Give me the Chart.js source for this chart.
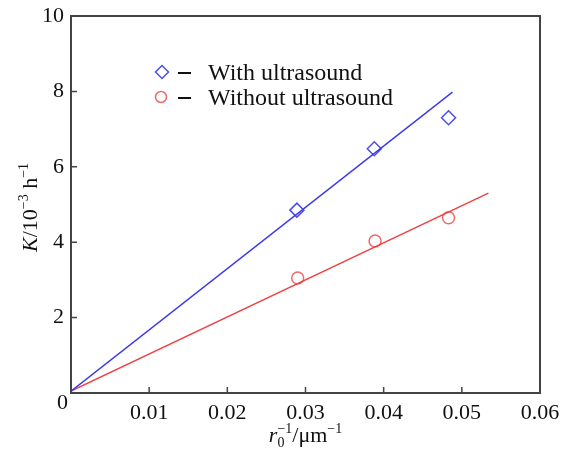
<!DOCTYPE html>
<html><head><meta charset="utf-8">
<script src="https://cdn.jsdelivr.net/npm/chart.js@4/dist/chart.umd.min.js"></script>
<style>html,body{margin:0;padding:0;background:#fff;}#w{width:562px;height:455px;}</style>
</head><body><div id="w"><canvas id="c" width="562" height="455"></canvas></div>
<script>
// Data
const withX = [0.0289, 0.0388, 0.0483];
const withY = [4.85, 6.48, 7.30];
const withoutX = [0.0290, 0.0389, 0.0483];
const withoutY = [3.05, 4.03, 4.65];
const withFitX = [0, 0.0488];
const withFitY = [0.05, 7.98];
const withoutFitX = [0, 0.0534];
const withoutFitY = [0.05, 5.30];
const xTicks = [0, 0.01, 0.02, 0.03, 0.04, 0.05, 0.06];
const yTicks = [0, 2, 4, 6, 8, 10];
const legendLabels = ['With ultrasound', 'Without ultrasound'];

const BLUE = '#3a3ae8', BLUE_M = '#4d4df0', RED = '#ee4040', RED_M = '#ee6a6a';
const FONT = '"Liberation Serif", "Times New Roman", serif';
const pts = (xs, ys) => xs.map((x, i) => ({x, y: ys[i]}));

function drawSegs(ctx, segs, x, y) {
  let cx = x, maxW = 0;
  for (const s of segs) {
    ctx.font = (s.it ? 'italic ' : '') + s.size + 'px ' + FONT;
    ctx.fillText(s.t, cx, y + (s.dy || 0));
    const w = ctx.measureText(s.t).width;
    if (s.stack) { maxW = Math.max(maxW, w); }
    else { cx += Math.max(w, maxW); maxW = 0; }
  }
  return cx - x;
}
function segsWidth(ctx, segs) {
  let cx = 0, maxW = 0;
  for (const s of segs) {
    ctx.font = (s.it ? 'italic ' : '') + s.size + 'px ' + FONT;
    const w = ctx.measureText(s.t).width;
    if (s.stack) maxW = Math.max(maxW, w); else { cx += Math.max(w, maxW); maxW = 0; }
  }
  return cx;
}

const deco = {
  id: 'deco',
  afterDraw(chart) {
    const ctx = chart.ctx, a = chart.chartArea;
    const xs = chart.scales.x, ys = chart.scales.y;
    ctx.save();
    ctx.strokeStyle = '#444'; ctx.lineWidth = 2;
    ctx.strokeRect(a.left, a.top, a.right - a.left, a.bottom - a.top);
    ctx.lineWidth = 1.5;
    ctx.beginPath();
    xTicks.slice(1, -1).forEach(v => { const p = xs.getPixelForValue(v); ctx.moveTo(p, a.bottom); ctx.lineTo(p, a.bottom - 6); });
    yTicks.slice(1, -1).forEach(v => { const p = ys.getPixelForValue(v); ctx.moveTo(a.left, p); ctx.lineTo(a.left + 6, p); });
    ctx.stroke();
    ctx.fillStyle = '#111';
    ctx.font = '22px ' + FONT; ctx.textAlign = 'right'; ctx.textBaseline = 'middle';
    ctx.fillText('0', a.left - 3, a.bottom + 10);
    ctx.textAlign = 'left'; ctx.textBaseline = 'alphabetic';
    const xt = [
      {t: 'r', size: 22, it: true},
      {t: '0', size: 14, dy: 5, stack: true},
      {t: '−1', size: 14, dy: -9},
      {t: '/μm', size: 22},
      {t: '−1', size: 14, dy: -9}
    ];
    const xw = segsWidth(ctx, xt);
    drawSegs(ctx, xt, (a.left + a.right) / 2 - xw / 2, 442);
    const yt = [
      {t: 'K', size: 22, it: true},
      {t: '/10', size: 22},
      {t: '−3', size: 14, dy: -9},
      {t: ' h', size: 22},
      {t: '−1', size: 14, dy: -9}
    ];
    const yw = segsWidth(ctx, yt);
    ctx.save();
    ctx.translate(37, (a.top + a.bottom) / 2 + 3);
    ctx.rotate(-Math.PI / 2);
    drawSegs(ctx, yt, -yw / 2, 0);
    ctx.restore();
    const items = [
      {y: 72, col: BLUE_M, shape: 'd'},
      {y: 97, col: RED_M, shape: 'c'}
    ];
    items.forEach((it, i) => {
      ctx.strokeStyle = it.col; ctx.lineWidth = 1.5;
      ctx.beginPath();
      if (it.shape === 'd') { ctx.moveTo(162, it.y - 6.5); ctx.lineTo(168.5, it.y); ctx.lineTo(162, it.y + 6.5); ctx.lineTo(155.5, it.y); ctx.closePath(); }
      else { ctx.arc(161, it.y, 5.5, 0, Math.PI * 2); }
      ctx.stroke();
      ctx.strokeStyle = '#111'; ctx.lineWidth = 2;
      ctx.beginPath(); ctx.moveTo(178, it.y + 1); ctx.lineTo(191, it.y + 1); ctx.stroke();
      ctx.fillStyle = '#111'; ctx.font = '24px ' + FONT;
      ctx.fillText(legendLabels[i], 208, it.y + 8);
    });
    ctx.restore();
  }
};

new Chart(document.getElementById('c'), {
  type: 'scatter',
  data: {
    datasets: [
      {data: pts(withFitX, withFitY), showLine: true, borderColor: BLUE, borderWidth: 1.4, pointRadius: 0, fill: false},
      {data: pts(withoutFitX, withoutFitY), showLine: true, borderColor: RED, borderWidth: 1.4, pointRadius: 0, fill: false},
      {data: pts(withX, withY), pointStyle: 'rectRot', pointRadius: 7, pointBorderColor: BLUE_M, pointBackgroundColor: 'rgba(0,0,0,0)', pointBorderWidth: 1.5, showLine: false},
      {data: pts(withoutX, withoutY), pointStyle: 'circle', pointRadius: 6, pointBorderColor: RED_M, pointBackgroundColor: 'rgba(0,0,0,0)', pointBorderWidth: 1.5, showLine: false}
    ]
  },
  options: {
    responsive: false, animation: false, devicePixelRatio: 1,
    layout: {padding: {left: 0, right: 22, top: 16, bottom: 0}},
    plugins: {legend: {display: false}, tooltip: {enabled: false}},
    scales: {
      x: {
        type: 'linear', min: 0, max: 0.06,
        afterBuildTicks: s => { s.ticks = xTicks.map(v => ({value: v})); },
        afterFit: s => { s.height = 62; s.paddingLeft = 0; s.paddingRight = 0; },
        grid: {display: false, drawTicks: false},
        border: {display: false},
        ticks: {padding: 7, color: '#111', font: {family: FONT, size: 22},
          callback: v => v === 0 ? '' : String(Math.round(v * 100) / 100)}
      },
      y: {
        min: 0, max: 10,
        afterBuildTicks: s => { s.ticks = yTicks.map(v => ({value: v})); },
        afterFit: s => { s.width = 71; s.paddingTop = 0; s.paddingBottom = 0; },
        grid: {display: false, drawTicks: false},
        border: {display: false},
        ticks: {padding: 7, color: '#111', font: {family: FONT, size: 22},
          callback: v => v === 0 ? '' : String(v)}
      }
    }
  },
  plugins: [deco]
});
</script></body></html>
